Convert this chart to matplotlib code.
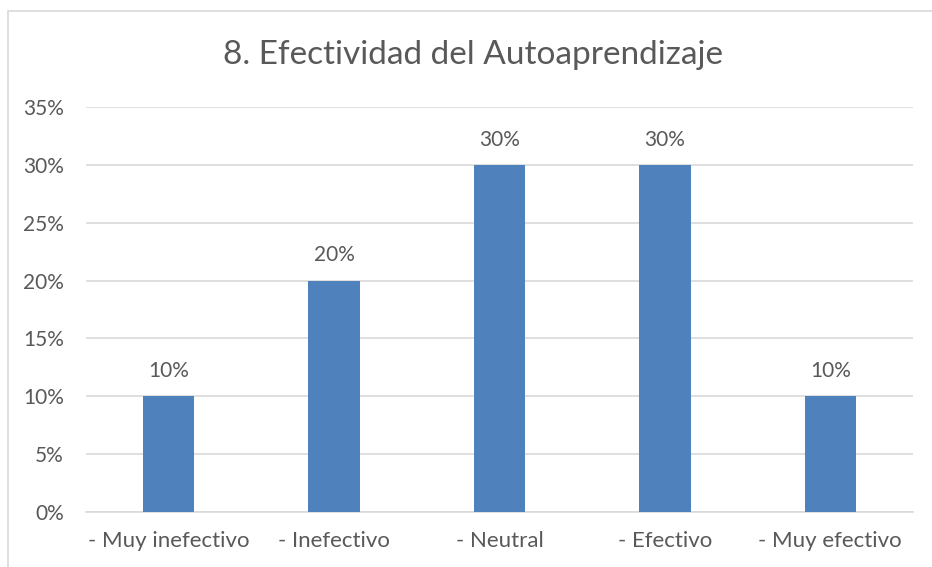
import matplotlib
matplotlib.use("Agg")
import matplotlib.pyplot as plt
from matplotlib.patches import Rectangle
from matplotlib.ticker import FuncFormatter, MultipleLocator

categories = ["- Muy inefectivo", "- Inefectivo", "- Neutral", "- Efectivo", "- Muy efectivo"]
values = [0.10, 0.20, 0.30, 0.30, 0.10]
title = "8. Efectividad del Autoaprendizaje"

plt.rcParams['font.family'] = ['Lato', 'DejaVu Sans']
txt = "#595959"

fig = plt.figure(figsize=(9.32, 5.67), dpi=100)
fig.patch.set_facecolor("white")
W, H = 932, 567
ax = fig.add_axes([86 / W, 1 - 512 / H, (913 - 86) / W, (512 - 107) / H])

x = list(range(len(categories)))
ax.bar(x, values, width=0.31, color="#4F81BD", zorder=3)
for xi, v in zip(x, values):
    ax.annotate(f"{v:.0%}", (xi, v), xytext=(0, 11), textcoords="offset points",
                ha="center", va="bottom", fontsize=15, color=txt)

ax.set_xlim(-0.5, len(categories) - 0.5)
ax.set_ylim(0, 0.35)
ax.yaxis.set_major_locator(MultipleLocator(0.05))
ax.yaxis.set_major_formatter(FuncFormatter(lambda v, p: f"{v:.0%}"))
ax.grid(axis="y", color="#D9D9D9", linewidth=1.2, zorder=0)
ax.set_axisbelow(True)
for s in ["top", "right", "left"]:
    ax.spines[s].set_visible(False)
ax.spines["bottom"].set_color("#D9D9D9")
ax.spines["bottom"].set_linewidth(1.2)
ax.tick_params(axis="both", length=0, labelsize=15, colors=txt)
ax.tick_params(axis="x", labelsize=16)
ax.tick_params(axis="y", pad=16)
ax.tick_params(axis="x", pad=14)
ax.set_xticks(x)
ax.set_xticklabels(categories)

fig.text(473 / W, 1 - 55 / H, title, ha="center", va="center", fontsize=24, color=txt)

fig.patches.append(Rectangle((7.5 / W, -0.1), 1.2, 1 - 10.5 / H + 0.1, transform=fig.transFigure,
                             fill=False, edgecolor="#D9D9D9", linewidth=1.2))

fig.savefig("out.png", dpi=100)
